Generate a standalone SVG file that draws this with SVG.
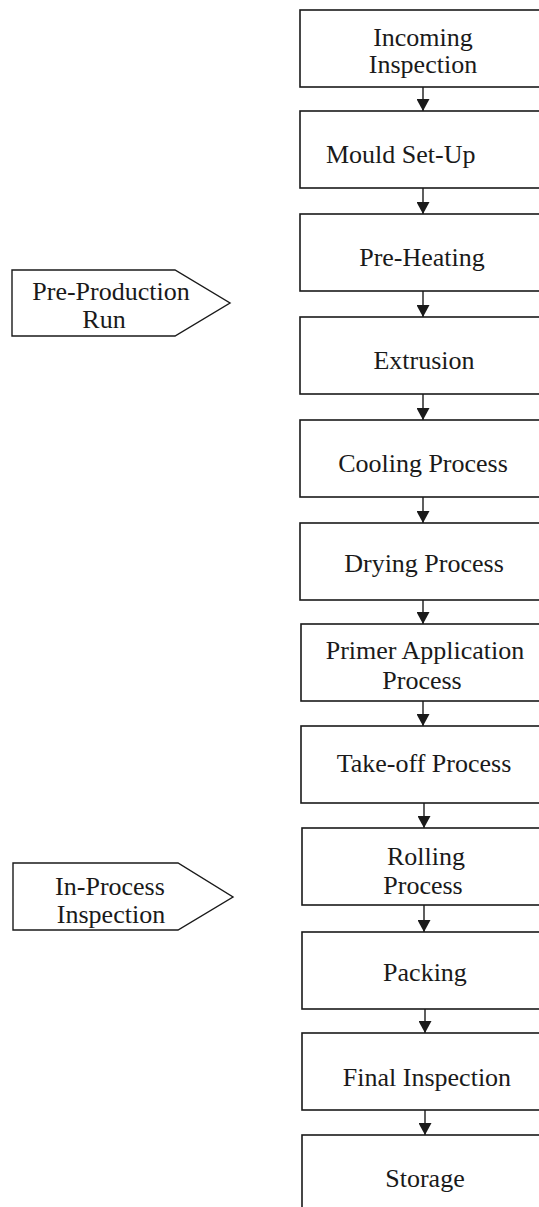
<svg xmlns="http://www.w3.org/2000/svg" width="539" height="1207" viewBox="0 0 539 1207">
<defs>
<style>
.box{fill:#fff;stroke:#1a1a1a;stroke-width:1.6}
.tag{fill:#fff;stroke:#1a1a1a;stroke-width:1.4}
.lbl{font-family:"Liberation Serif","Times New Roman",serif;font-size:26px;fill:#1a1a1a;text-anchor:middle}
.con{stroke:#1a1a1a;stroke-width:1.4;fill:none}
</style>
<marker id="ah" markerUnits="userSpaceOnUse" markerWidth="14" markerHeight="13" refX="12" refY="6.5" orient="auto">
<path d="M0,0 L12,6.5 L0,13 Z" fill="#1a1a1a"/>
</marker>
</defs>
<rect width="539" height="1207" fill="#fff"/>
<g id="connectors">
<path class="con" d="M423,87 V111" marker-end="url(#ah)"/>
<path class="con" d="M423,188 V214" marker-end="url(#ah)"/>
<path class="con" d="M423,291 V317" marker-end="url(#ah)"/>
<path class="con" d="M423,394 V420" marker-end="url(#ah)"/>
<path class="con" d="M423,497 V523" marker-end="url(#ah)"/>
<path class="con" d="M423,600 V624" marker-end="url(#ah)"/>
<path class="con" d="M423,701 V726" marker-end="url(#ah)"/>
<path class="con" d="M424,803 V828" marker-end="url(#ah)"/>
<path class="con" d="M424,905 V932" marker-end="url(#ah)"/>
<path class="con" d="M425,1009 V1033" marker-end="url(#ah)"/>
<path class="con" d="M425,1110 V1135" marker-end="url(#ah)"/>
</g>
<g id="n1"><rect class="box" x="300" y="10" width="250" height="77"/><text class="lbl" x="423" y="46">Incoming</text><text class="lbl" x="423" y="73">Inspection</text></g>
<g id="n2"><rect class="box" x="300" y="111" width="250" height="77"/><text class="lbl" x="326" y="163" style="text-anchor:start">Mould Set-Up</text></g>
<g id="n3"><rect class="box" x="300" y="214" width="250" height="77"/><text class="lbl" x="422" y="266">Pre-Heating</text></g>
<g id="n4"><rect class="box" x="300" y="317" width="250" height="77"/><text class="lbl" x="424" y="369">Extrusion</text></g>
<g id="n5"><rect class="box" x="300" y="420" width="250" height="77"/><text class="lbl" x="423" y="472">Cooling Process</text></g>
<g id="n6"><rect class="box" x="300" y="523" width="250" height="77"/><text class="lbl" x="424" y="572">Drying Process</text></g>
<g id="n7"><rect class="box" x="301" y="624" width="250" height="77"/><text class="lbl" x="425" y="659">Primer Application</text><text class="lbl" x="422" y="689">Process</text></g>
<g id="n8"><rect class="box" x="301" y="726" width="250" height="77"/><text class="lbl" x="424" y="772">Take-off Process</text></g>
<g id="n9"><rect class="box" x="302" y="828" width="250" height="77"/><text class="lbl" x="426" y="865">Rolling</text><text class="lbl" x="423" y="894">Process</text></g>
<g id="n10"><rect class="box" x="302" y="932" width="250" height="77"/><text class="lbl" x="425" y="981">Packing</text></g>
<g id="n11"><rect class="box" x="302" y="1033" width="250" height="77"/><text class="lbl" x="427" y="1086">Final Inspection</text></g>
<g id="n12"><rect class="box" x="302" y="1135" width="250" height="90"/><text class="lbl" x="425" y="1187">Storage</text></g>
<g id="t1"><path class="tag" d="M12,270 H175 L230,303 L175,336 H12 Z"/><text class="lbl" x="111" y="300">Pre-Production</text><text class="lbl" x="104" y="328">Run</text></g>
<g id="t2"><path class="tag" d="M13,863 H178 L233,897 L178,930 H13 Z"/><text class="lbl" x="110" y="895">In-Process</text><text class="lbl" x="111" y="923">Inspection</text></g>
</svg>
